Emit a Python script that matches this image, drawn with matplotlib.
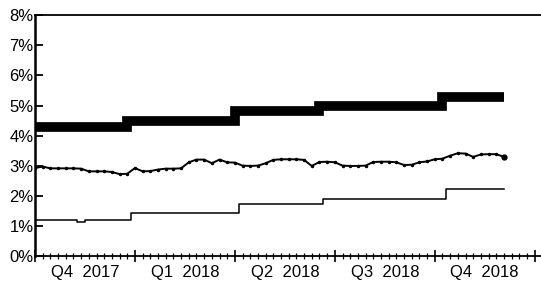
import numpy as np
import matplotlib.pyplot as plt
from matplotlib import font_manager

# weekly axis, week 0 = start of Q4 2017
quarters = ['Q4  2017', 'Q1  2018', 'Q2  2018', 'Q3  2018', 'Q4  2018']

# thick step series: level per quarter and the week it starts
top_levels = [4.3, 4.5, 4.82, 5.0, 5.3]
top_starts = [0, 12, 26, 37, 53]

# thin step series
low_levels = [1.2, 1.43, 1.73, 1.92, 2.22]
low_starts = [0, 13, 27, 38, 54]
low_dip_week = 6
low_dip_value = 1.13

# middle series, weekly readings
mid = [2.93, 2.98, 2.92, 2.92, 2.92, 2.92, 2.91, 2.82, 2.82, 2.82,
       2.80, 2.73, 2.74, 2.93, 2.82, 2.83, 2.88, 2.91, 2.91, 2.92,
       3.12, 3.21, 3.21, 3.09, 3.21, 3.12, 3.11, 3.01, 3.0, 3.01,
       3.09, 3.2, 3.22, 3.22, 3.22, 3.2, 3.0, 3.13, 3.14, 3.12,
       3.01, 3.0, 3.0, 3.01, 3.13, 3.14, 3.14, 3.12, 3.03, 3.04,
       3.12, 3.15, 3.22, 3.24, 3.34, 3.42, 3.41, 3.30, 3.38, 3.39,
       3.39, 3.30]

weeks = np.arange(len(mid))


def expand(levels, starts, n):
    out = np.zeros(n)
    for lv, st in zip(levels, starts):
        out[st:] = lv
    return out


top = expand(top_levels, top_starts, len(weeks))
low = expand(low_levels, low_starts, len(weeks))
low[low_dip_week] = low_dip_value

names = {f.name for f in font_manager.fontManager.ttflist}
fam = 'Liberation Sans Narrow' if 'Liberation Sans Narrow' in names else 'Liberation Sans'
plt.rcParams['font.family'] = fam

fig = plt.figure(figsize=(5.41, 2.81), dpi=100)
ax = fig.add_axes([0.0647, 0.0872, 0.935, 0.8594])

ax.plot(weeks, top, drawstyle='steps-post', color='black', lw=7.0,
        solid_capstyle='butt', solid_joinstyle='miter')
ax.plot(weeks, low, drawstyle='steps-mid', color='black', lw=1.1)
ax.plot(weeks, mid, color='black', lw=1.4, marker='.', ms=3)
ax.plot(weeks[-1:], mid[-1:], 'o', color='black', ms=3.5)

ax.set_xlim(0, 65.8)
ax.set_ylim(0, 8)

ax.set_yticks(range(9))
ax.set_yticklabels([f'{i}%' for i in range(9)], fontsize=12)
ax.tick_params(axis='y', direction='in', length=6, width=1.3, pad=1)

ax.set_xticks(np.arange(0, 66, 13))
ax.set_xticklabels([])
ax.set_xticks(np.arange(0, 66, 1), minor=True)
ax.tick_params(axis='x', which='major', direction='inout', length=9, width=1.2)
ax.tick_params(axis='x', which='minor', direction='inout', length=4, width=0.9)

for i, q in enumerate(quarters):
    ax.text(6.5 + 13 * i, -0.085, q, transform=ax.get_xaxis_transform(),
            ha='center', va='baseline', fontsize=12)

ax.spines['right'].set_visible(False)
ax.spines['left'].set_linewidth(1.8)
ax.spines['bottom'].set_linewidth(1.3)
ax.spines['top'].set_linewidth(1.3)

fig.savefig('out.png', dpi=100)
